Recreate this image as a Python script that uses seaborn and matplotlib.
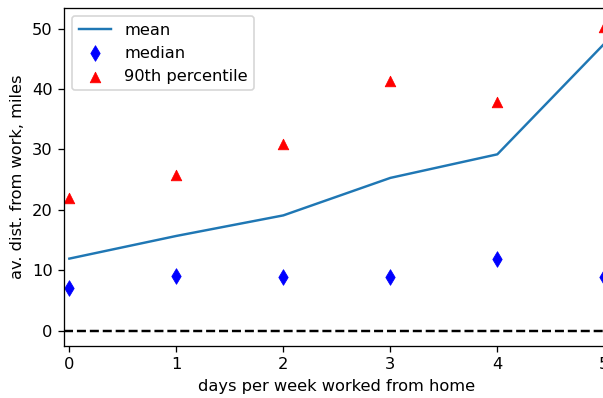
import matplotlib
matplotlib.use("Agg")
import matplotlib.pyplot as plt
import seaborn as sns

# Commute distance by number of days worked from home
days = [0, 1, 2, 3, 4, 5]
mean_dist = [11.95, 15.7, 19.1, 25.3, 29.2, 47.5]
median_dist = [7.16, 9.09, 8.87, 8.93, 11.9, 8.93]
p90_dist = [22.0, 25.7, 30.9, 41.3, 37.8, 50.3]

plt.rcParams["font.family"] = ["DejaVu Sans"]
plt.rcParams["font.size"] = 10

DPI = 117
fig = plt.figure(figsize=(603 / DPI, 398 / DPI), dpi=DPI)
ax = fig.add_axes([0.1061, 0.1307, 0.905, 0.8492])

sns.lineplot(x=days, y=mean_dist, ax=ax, color="#1f77b4", linewidth=1.5, label="mean")
sns.scatterplot(x=days, y=median_dist, ax=ax, marker="d", color="blue",
                edgecolor="blue", linewidth=0.5, s=46, label="median")
sns.scatterplot(x=days, y=p90_dist, ax=ax, marker="^", color="red",
                edgecolor="red", linewidth=0.5, s=42, label="90th percentile")
ax.axhline(0, color="black", linestyle="--", linewidth=1.5)

ax.set_xlim(-0.05, 5.05)
ax.set_ylim(-2.5, 53.4)
ax.set_xticks(days)
ax.set_yticks([0, 10, 20, 30, 40, 50])
ax.set_xlabel("days per week worked from home")
ax.set_ylabel("av. dist. from work, miles")
ax.legend(loc="upper left")

fig.savefig("out.png", dpi=DPI)
